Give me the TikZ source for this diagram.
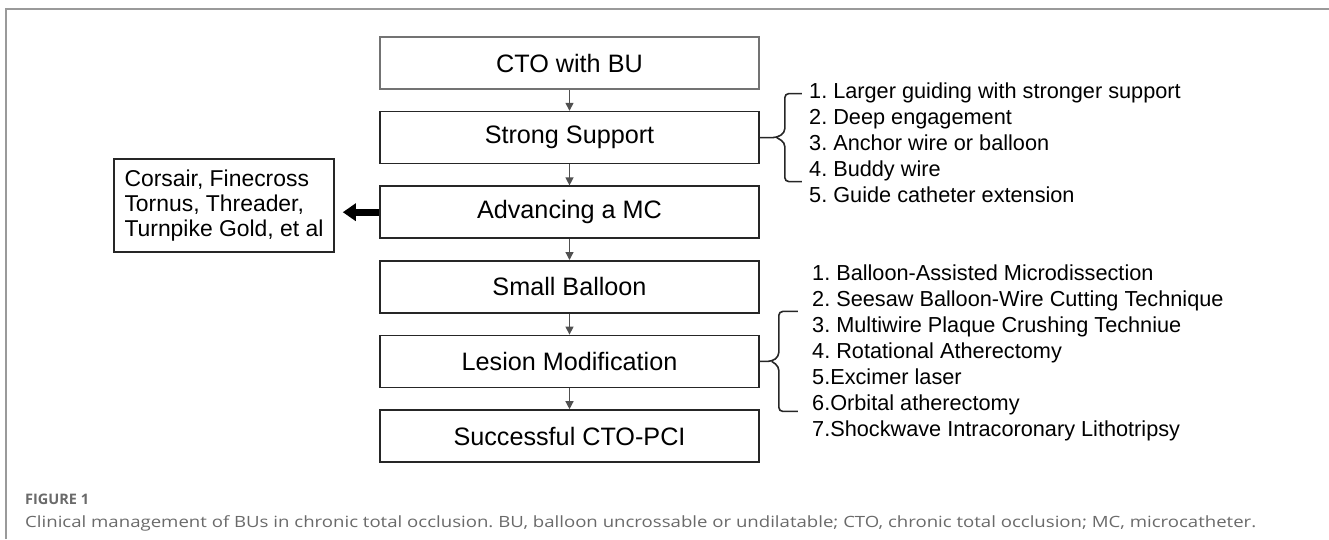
\documentclass[tikz,border=0pt]{standalone}
\usepackage{fontspec}
\setmainfont{Liberation Sans}
\newfontfamily\capfont[FakeStretch=1.2]{Open Sans}
\newfontfamily\figfont{Open Sans}
\usetikzlibrary{positioning,arrows.meta}
\frenchspacing

\definecolor{boxline}{HTML}{262626}
\definecolor{arrgray}{HTML}{505050}
\definecolor{framegray}{HTML}{9A9A9A}
\definecolor{capgray}{HTML}{6A6A6A}

\tikzset{
  stage/.style={draw=boxline, line width=1.6pt, minimum width=379pt,
    minimum height=52pt, inner sep=0pt, font=\fontsize{25.2}{28}\selectfont},
  flow/.style={draw=arrgray, line width=1.3pt, -{Triangle[length=8pt,width=8pt]}},
  brc/.style={draw=boxline, line width=1.6pt, rounded corners=4pt},
  item/.style={anchor=base west, inner sep=0pt, font=\fontsize{21.7}{26}\selectfont}
}

\begin{document}
\begin{tikzpicture}[x=1pt,y=-1pt]
  \useasboundingbox (0,0) rectangle (1329,539);
  % frame
  \draw[framegray, line width=1.5pt] (6,539) -- (6,9) -- (1329,9);

  % main chain
  \node[stage, draw=black!55] (cto) at (569.5,63) {CTO with BU};
  \node[stage, below=21pt of cto] (sup) {Strong Support};
  \node[stage, below=21pt of sup] (adv) {Advancing a MC};
  \node[stage, below=21pt of adv] (bal) {Small Balloon};
  \node[stage, below=21pt of bal] (les) {Lesion Modification};
  \node[stage, below=21pt of les] (pci) {Successful CTO-PCI};
  \foreach \a/\b in {cto/sup,sup/adv,adv/bal,bal/les,les/pci}
    \draw[flow] (\a) -- (\b);

  % microcatheters
  \node[draw=boxline, line width=1.6pt, minimum width=220pt, minimum height=93pt,
    inner sep=0pt, align=left,
    font=\fontsize{22.9}{25}\selectfont] (mc) at (224,205.5)
    {Corsair, Finecross\\Tornus, Threader,\\Turnpike Gold, et al};
  \draw[line width=7pt, -{Triangle[length=13pt,width=17pt]}, shorten >=8pt]
    (adv.west) -- (adv.west -| mc.east);

  % support options
  \draw[brc] (sup.east) -- ++(17,0) -- ++(8,-5) -- ++(0,-39) -- ++(17,0);
  \draw[brc] (sup.east) ++(17,0) -- ++(8,5) -- ++(0,39) -- ++(17,0);
  \foreach \t [count=\i] in {1. Larger guiding with stronger support,
      2. Deep engagement, 3. Anchor wire or balloon, 4. Buddy wire,
      5. Guide catheter extension}
    \node[item] (s\i) at (809,{98+26.2*(\i-1)}) {\t};

  % modification options
  \draw[brc] (les.east) -- ++(12,0) -- ++(7,-5) -- ++(0,-45) -- ++(19,0);
  \draw[brc] (les.east) ++(12,0) -- ++(7,5) -- ++(0,45) -- ++(19,0);
  \foreach \t [count=\i] in {1. Balloon-Assisted Microdissection,
      2. Seesaw Balloon-Wire Cutting Technique,
      3. Multiwire Plaque Crushing Techniue, 4. Rotational Atherectomy,
      5.Excimer laser, 6.Orbital atherectomy,
      7.Shockwave Intracoronary Lithotripsy}
    \node[item] (m\i) at (812,{280+26*(\i-1)}) {\t};

  % caption
  \node[anchor=base west, inner sep=0pt, text=capgray,
    font=\figfont\bfseries\fontsize{14.5}{16}\selectfont] (fig) at (25,504) {FIGURE 1};
  \node[anchor=base west, inner sep=0pt, text=capgray,
    font=\capfont\fontsize{15.5}{19}\selectfont] (cap) at (25,527)
    {Clinical management of BUs in chronic total occlusion. BU, balloon uncrossable or undilatable; CTO, chronic total occlusion; MC, microcatheter.};
\end{tikzpicture}
\end{document}
